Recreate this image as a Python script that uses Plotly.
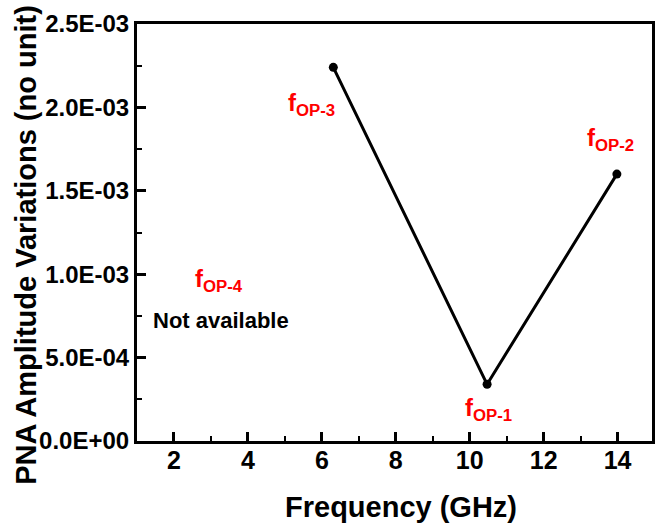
import plotly.graph_objects as go

# Data
freq_ghz = [6.31, 10.47, 13.98]
amp_var = [2.24e-3, 3.40e-4, 1.60e-3]
point_labels = ["f<sub>OP-3</sub>", "f<sub>OP-1</sub>", "f<sub>OP-2</sub>"]
label_xshift = [-22, 1, -6]
label_yshift = [-37, -25, 35]
x_ticks = [2, 4, 6, 8, 10, 12, 14]
y_ticks = [0, 5e-4, 1e-3, 1.5e-3, 2e-3, 2.5e-3]
y_tick_text = ["0.0E+00", "5.0E-04", "1.0E-03", "1.5E-03", "2.0E-03", "2.5E-03"]
na_label_pos = (3.23, 9.65e-4)
na_text_pos = (3.26, 7.25e-4)

FONT = "Liberation Sans, Arial, sans-serif"
RED = "#ff0000"

fig = go.Figure()
fig.add_trace(go.Scatter(
    x=freq_ghz, y=amp_var, mode="lines+markers",
    line=dict(color="black", width=3),
    marker=dict(color="black", size=9),
    showlegend=False, hoverinfo="skip",
))

annotations = []
for x, y, t, dx, dy in zip(freq_ghz, amp_var, point_labels, label_xshift, label_yshift):
    annotations.append(dict(x=x, y=y, xref="x", yref="y", text=t, showarrow=False,
                            xshift=dx, yshift=dy, xanchor="center", yanchor="middle",
                            font=dict(family=FONT, size=24, color=RED, weight="bold")))
annotations.append(dict(x=na_label_pos[0], y=na_label_pos[1], xref="x", yref="y",
                        text="f<sub>OP-4</sub>", showarrow=False, xanchor="center", yanchor="middle",
                        font=dict(family=FONT, size=24, color=RED, weight="bold")))
annotations.append(dict(x=na_text_pos[0], y=na_text_pos[1], xref="x", yref="y",
                        text="Not available", showarrow=False, xanchor="center", yanchor="middle",
                        font=dict(family=FONT, size=22, color="black", weight="bold")))
# Axis titles
annotations.append(dict(x=0.512, y=-0.158, xref="paper", yref="paper", text="Frequency (GHz)",
                        showarrow=False, xanchor="center", yanchor="middle",
                        font=dict(family=FONT, size=29, color="black", weight="bold")))
annotations.append(dict(x=-0.216, y=0.47, xref="paper", yref="paper",
                        text="PNA Amplitude Variations (no unit)", textangle=-90,
                        showarrow=False, xanchor="center", yanchor="middle",
                        font=dict(family=FONT, size=29, color="black", weight="bold")))

fig.update_layout(
    width=655, height=525,
    margin=dict(l=137, r=0, t=24, b=84),
    paper_bgcolor="white", plot_bgcolor="white",
    annotations=annotations,
    xaxis=dict(range=[1, 14.93], tickvals=x_ticks, ticks="inside", ticklen=9, tickwidth=2.5,
               tickcolor="black", showline=True, linecolor="black", linewidth=3, mirror=True,
               showgrid=False, zeroline=False,
               minor=dict(ticks="inside", ticklen=5, tickwidth=2, tickcolor="black", dtick=1, showgrid=False),
               tickfont=dict(family=FONT, size=25, color="black", weight="bold"),
               ticklabelstandoff=-5),
    yaxis=dict(range=[0, 2.5e-3], tickvals=y_ticks, ticktext=y_tick_text, ticks="inside",
               ticklen=9, tickwidth=2.5, tickcolor="black", showline=True, linecolor="black",
               linewidth=3, mirror=True, showgrid=False, zeroline=False,
               minor=dict(ticks="inside", ticklen=5, tickwidth=2, tickcolor="black", dtick=2.5e-4, showgrid=False),
               tickfont=dict(family=FONT, size=24, color="black", weight="bold"),
               ticklabelstandoff=0),
)

fig.write_html("out.html", config={"displayModeBar": False},
               post_script="document.body.style.margin='0';")
